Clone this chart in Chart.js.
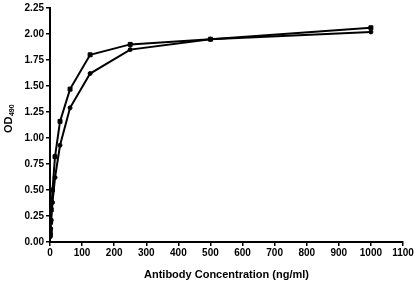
<!DOCTYPE html>
<html>
<head>
<meta charset="utf-8">
<script src="https://cdn.jsdelivr.net/npm/chart.js@4/dist/chart.umd.min.js"></script>
<style>
  html, body { margin: 0; padding: 0; background: #fff; }
  #wrap { width: 416px; height: 282px; }
</style>
</head>
<body>
<div id="wrap"><canvas id="odChart" width="416" height="282"></canvas></div>
<script>
  // antibody dilution series (ng/ml)
  const concentrations = [1000, 500, 250, 125, 62.5, 31.25, 15.63, 7.81, 3.91, 1.95, 0.98, 0.49, 0.24];
  const odSquares = [2.06, 1.95, 1.90, 1.80, 1.47, 1.16, 0.82, 0.50, 0.31, 0.19, 0.12, 0.08, 0.06];
  const odCircles = [2.02, 1.95, 1.85, 1.62, 1.29, 0.93, 0.62, 0.38, 0.21, 0.13, 0.08, 0.06, 0.05];
  const xTicks = [0, 100, 200, 300, 400, 500, 600, 700, 800, 900, 1000, 1100];
  const yTicks = [0, 0.25, 0.5, 0.75, 1, 1.25, 1.5, 1.75, 2, 2.25];

  const toPoints = (ys) => concentrations.map((c, i) => ({ x: c, y: ys[i] })).sort((a, b) => a.x - b.x);

  // y title with subscript
  const odTitle = {
    id: 'odTitle',
    afterDraw(chart) {
      const ctx = chart.ctx;
      ctx.save();
      ctx.translate(9, 119);
      ctx.rotate(-Math.PI / 2);
      ctx.fillStyle = '#000';
      ctx.textBaseline = 'middle';
      ctx.font = 'bold 11px "Liberation Sans", Arial, sans-serif';
      const w1 = ctx.measureText('OD').width;
      ctx.font = 'bold 7px "Liberation Sans", Arial, sans-serif';
      const w2 = ctx.measureText('490').width;
      const x0 = -(w1 + w2) / 2;
      ctx.font = 'bold 11px "Liberation Sans", Arial, sans-serif';
      ctx.textAlign = 'left';
      ctx.fillText('OD', x0, 0);
      ctx.font = 'bold 7px "Liberation Sans", Arial, sans-serif';
      ctx.fillText('490', x0 + w1 + 0.5, 3);
      ctx.restore();
    }
  };

  const tickFont = { family: '"Liberation Sans", Arial, sans-serif', size: 10, weight: 'bold' };

  new Chart(document.getElementById('odChart').getContext('2d'), {
    type: 'line',
    data: {
      datasets: [
        {
          label: 'squares',
          data: toPoints(odSquares),
          borderColor: '#000',
          backgroundColor: '#000',
          borderWidth: 2,
          pointBorderWidth: 1,
          pointStyle: 'rect',
          pointRadius: 2.8,
          tension: 0
        },
        {
          label: 'circles',
          data: toPoints(odCircles),
          borderColor: '#000',
          backgroundColor: '#000',
          borderWidth: 2,
          pointBorderWidth: 1,
          pointStyle: 'circle',
          pointRadius: 2,
          tension: 0
        }
      ]
    },
    options: {
      responsive: false,
      animation: false,
      layout: { padding: { top: 8, right: 13, left: 0, bottom: 0 } },
      plugins: {
        legend: { display: false },
        tooltip: { enabled: false }
      },
      scales: {
        x: {
          type: 'linear',
          min: 0,
          max: 1100,
          afterBuildTicks: (s) => { s.ticks = xTicks.map(v => ({ value: v })); },
          afterFit: (s) => { s.height = 40; },
          border: { color: '#000', width: 2 },
          grid: { drawOnChartArea: false, tickLength: 4, tickColor: '#000', lineWidth: 1.5 },
          ticks: {
            color: '#000',
            font: tickFont,
            padding: 1,
            maxRotation: 0,
            autoSkip: false,
            callback: (v) => String(v)
          },
          title: {
            display: true,
            text: 'Antibody Concentration (ng/ml)',
            color: '#000',
            font: { family: '"Liberation Sans", Arial, sans-serif', size: 11, weight: 'bold' },
            padding: { top: 3, bottom: 0 }
          }
        },
        y: {
          min: 0,
          max: 2.25,
          afterBuildTicks: (s) => { s.ticks = yTicks.map(v => ({ value: v })); },
          afterFit: (s) => { s.width = 50; },
          border: { color: '#000', width: 2 },
          grid: { drawOnChartArea: false, tickLength: 4, tickColor: '#000', lineWidth: 1.5 },
          ticks: {
            color: '#000',
            font: tickFont,
            padding: 2,
            callback: (v) => Number(v).toFixed(2)
          }
        }
      }
    },
    plugins: [odTitle]
  });
</script>
</body>
</html>
